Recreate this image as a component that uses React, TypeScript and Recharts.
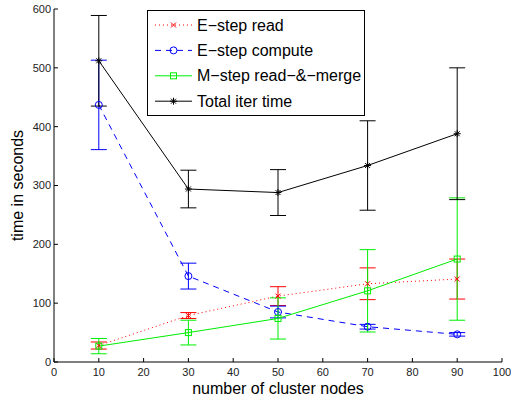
import React from "react"
import { ComposedChart, Line, XAxis, YAxis, ErrorBar, Legend } from "recharts"

const nodes = [10, 30, 50, 70, 90]
const readTime = [28, 79, 112, 133, 141]
const readErr = [6, 5, 16, 27, 34]
const computeTime = [437, 146, 85, 60, 47]
const computeErr = [76, 22, 10, 4, 3]
const mergeTime = [27, 50, 74, 121, 175]
const mergeErr = [13, 21, 35, 70, 104]
const totalTime = [512, 294, 288, 334, 388]
const totalErr = [77, 32, 39, 76, 112]

const xTicks = [0, 10, 20, 30, 40, 50, 60, 70, 80, 90, 100]
const yTicks = [0, 100, 200, 300, 400, 500, 600]

const data = nodes.map((n, i) => ({
  n,
  read: readTime[i],
  readErr: readErr[i],
  compute: computeTime[i],
  computeErr: computeErr[i],
  merge: mergeTime[i],
  mergeErr: mergeErr[i],
  total: totalTime[i],
  totalErr: totalErr[i],
}))

type Marker = "x" | "circle" | "square" | "star"

const series: Array<{ key: string; err: string; name: string; color: string; dash?: string; marker: Marker }> = [
  { key: "read", err: "readErr", name: "E\u2212step read", color: "#ff0000", dash: "1 3", marker: "x" },
  { key: "compute", err: "computeErr", name: "E\u2212step compute", color: "#0000ff", dash: "6 5", marker: "circle" },
  { key: "merge", err: "mergeErr", name: "M\u2212step read\u2212&\u2212merge", color: "#00ee00", marker: "square" },
  { key: "total", err: "totalErr", name: "Total iter time", color: "#000000", marker: "star" },
]

function markerShape(kind: Marker, cx: number, cy: number, color: string) {
  if (kind === "x") {
    const r = 2.5
    return (
      <g stroke={color} strokeWidth={1}>
        <line x1={cx - r} y1={cy - r} x2={cx + r} y2={cy + r} />
        <line x1={cx - r} y1={cy + r} x2={cx + r} y2={cy - r} />
      </g>
    )
  }
  if (kind === "circle") {
    return <circle cx={cx} cy={cy} r={3.5} fill="none" stroke={color} strokeWidth={1} />
  }
  if (kind === "square") {
    return <rect x={cx - 3} y={cy - 3} width={6} height={6} fill="none" stroke={color} strokeWidth={1} />
  }
  const r = 3.5
  const d = 2.5
  return (
    <g stroke={color} strokeWidth={1}>
      <line x1={cx - r} y1={cy} x2={cx + r} y2={cy} />
      <line x1={cx} y1={cy - r} x2={cx} y2={cy + r} />
      <line x1={cx - d} y1={cy - d} x2={cx + d} y2={cy + d} />
      <line x1={cx - d} y1={cy + d} x2={cx + d} y2={cy - d} />
    </g>
  )
}

function LegendBox() {
  return (
    <svg width={219} height={107} style={{ display: "block" }}>
      <rect x={0.5} y={0.5} width={217} height={105} fill="#fff" stroke="#000" strokeWidth={1} />
      {series.map((s, i) => {
        const cy = 15 + i * 25.4
        return (
          <g key={s.key}>
            <line x1={8} x2={45} y1={cy} y2={cy} stroke={s.color} strokeDasharray={s.dash} strokeWidth={1} />
            {markerShape(s.marker, 26.5, cy, s.color)}
            <text x={50} y={cy + 5.5} fontSize={16} fill="#000">
              {s.name}
            </text>
          </g>
        )
      })}
    </svg>
  )
}

export default function App() {
  return (
    <div style={{ position: "absolute", left: 0, top: 0, fontFamily: "'Liberation Sans', Arial, sans-serif" }}>
      <ComposedChart width={511} height={398} data={data} margin={{ top: 9, right: 9, bottom: 0, left: 0 }}>
        <XAxis
          dataKey="n"
          type="number"
          domain={[0, 100]}
          ticks={xTicks}
          interval={0}
          height={36}
          tickSize={-4}
          tickMargin={10}
          stroke="#000"
          tick={{ fontSize: 11, fill: "#222" }}
          label={{ value: "number of cluster nodes", position: "insideBottom", offset: 4, fontSize: 16, fill: "#000" }}
        />
        <YAxis
          type="number"
          domain={[0, 600]}
          ticks={yTicks}
          interval={0}
          allowDataOverflow
          width={54}
          tickSize={-4}
          tickMargin={7}
          stroke="#000"
          tick={{ fontSize: 11, fill: "#222" }}
          label={{
            value: "time in seconds",
            angle: -90,
            position: "insideLeft",
            offset: 17,
            fontSize: 16,
            fill: "#000",
            style: { textAnchor: "middle" },
          }}
        />
        <Legend
          layout="vertical"
          align="center"
          verticalAlign="middle"
          wrapperStyle={{ left: 147, top: 10, width: 219, height: 107 }}
          content={() => <LegendBox />}
        />
        {series.map((s) => (
          <Line
            key={s.key}
            dataKey={s.key}
            name={s.name}
            stroke={s.color}
            strokeWidth={1}
            strokeDasharray={s.dash}
            isAnimationActive={false}
            dot={(p: any) => <g key={`${s.key}-${p.index}`}>{markerShape(s.marker, p.cx, p.cy, s.color)}</g>}
            activeDot={false}
          >
            <ErrorBar dataKey={s.err} width={8} stroke={s.color} strokeWidth={1} direction="y" />
          </Line>
        ))}
      </ComposedChart>
    </div>
  )
}
